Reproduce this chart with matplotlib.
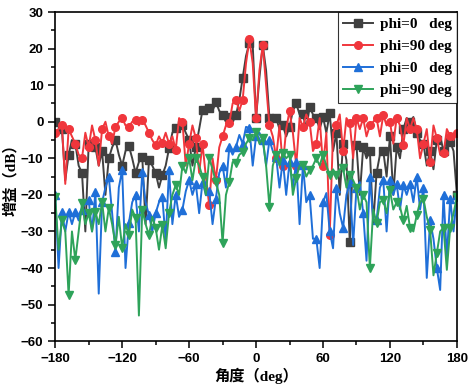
import numpy as np
import matplotlib.pyplot as plt
from matplotlib.ticker import MultipleLocator

# angle grid, 3 deg step
angle = np.arange(-180, 181, 3)

# co-pol phi=0
gain_co0 = [0, -1, -2, -16, -9, -5, -6, -12, -14, -30, -6, -5, -7, -12, -8, -20, -10, -7, -5, -9,
            -12, -8, -6.6, -10, -14, -11, -9.6, -28, -10.5, -12, -14, -18, -14.6, -12, -7.3, -3, -1.7, -1, -0.9, -3,
            -5, -12, -7, -2, 3.2, 4, 3.7, 3, 5.4, 3, 1.8, 0, 1.3, 0, 1.8, 6, 12, 18, 21.5, 21,
            1, 12, 21, 14, 1, 1.5, 1, -2, -1, -4, -1.4, 3, 5, 2, 2, -2, 4, 2, 1, -2,
            1.3, -3, 2.3, -8, -3, -20, -6, -10.5, -33, -8, -6.4, -20, -7, -10, -8, -28, -14, -9, -8, -15,
            -4, -20, -7, -10, -2, 1, 0, 1.3, -3, -5, -6, -12, -8, -13, -5, -4, -8, -5, -5.5, -8,
            -20]

# co-pol phi=90
gain_co90 = [-3, -2, -1, -17, -2, -4, -6, -9, -10, -3, -7, -1, -5, -12, -2, 0, -4, -6, -1.4, 0,
             1, -1, -1.4, 0, 0.5, -1, 0.5, -1, -3, -5, -6.4, -4, -5.8, -3, -6, -4, -7.7, 1, 0, -12,
             -6, -1, -4.5, -14, -6, -15, -22.8, -10, -16, -7, -4, -1, -0.4, 5, 6, 3, 6, 16, 22.5, 16,
             1, 14, 21, 10, -1, -4, -10, -1, -12, -2, 3, -3, -12, 1, -1.4, 2, 0, -8, -6, 1,
             -12, -3, -31, -3, -1, 2, -8, 1, -0.4, -10, 1, -2, 1, -4, -1, 0, 1, -4, 1.8, -1,
             0, -6, 1, -1, -6.4, 1, -2, 1, -2, -10, -6, -2, -11, -1, -4.5, -9, -8.6, -2, -4, -5,
             -3]

# cross-pol phi=0
gain_x0 = [-20, -40, -24.7, -30, -24.7, -28, -24.7, -27, -24, -22, -21.4, -30, -19.2, -47, -22, -18, -15, -25, -35.6, -18,
           -13.2, -40, -27.7, -22, -20, -30, -13.8, -22, -25.5, -30, -25, -22, -20.6, -32.4, -13.2, -28, -20, -26, -24, -19,
           -16, -20, -17, -25, -16.5, -20, -19, -28, -21, -14, -12, -18, -7, -9, -6.9, -3.6, -6, -1.4, -1.7, -12,
           -4, -3, -5, -12, -5, -8, -9.6, -18, -10.5, -20, -11, -18, -11, -28, -11.8, -22, -20, -32, -32, -40,
           -22, -19.5, -30, -34.6, -18, -25, -29, -20, -16.5, -33.7, -18, -16.5, -25, -38, -15, -27, -27, -18, -16, -30,
           -16, -20, -17, -24, -17.3, -20, -17, -22, -15, -24, -18, -42.7, -27, -32, -40, -46, -20, -37, -21, -30,
           -20]

# cross-pol phi=90
gain_x90 = [-20.5, -35, -27, -30, -47.4, -30, -37.8, -30, -22.3, -28, -25, -30, -24.7, -28, -21.9, -30, -23.6, -28, -33.7, -26,
            -34.6, -28, -31, -24, -26.3, -53, -24, -28, -31, -26, -29, -35, -28.3, -34.6, -25, -20, -17.3, -20, -12, -14,
            -10, -16, -10, -12, -15, -20, -10, -13, -16.5, -20, -33.2, -20, -16.5, -11, -11.3, -9, -8.3, -6, -4.5, -5,
            -2.8, -6, -4.5, -12, -23.3, -12, -9, -12, -8.5, -10, -9, -20, -15.4, -12, -11.8, -15, -13.2, -12, -10, -12,
            -9, -12, -14.6, -13, -14.6, -13, -12.7, -18, -14.6, -16, -18, -24, -20, -22, -40, -24, -27.7, -22, -21.4, -25,
            -18.7, -24, -22, -23.3, -27, -23, -29, -30, -25.5, -22, -21, -26, -29.6, -42, -36, -30, -29, -40.5, -29, -25,
            -20.6]

labels = ['phi=0   deg', 'phi=90 deg', 'phi=0   deg', 'phi=90 deg']
colors = ['#404040', '#f0363c', '#1f6fd8', '#2ea35a']
markers = ['s', 'o', '^', 'v']

fig = plt.figure(figsize=(4.72, 3.89), dpi=100)
ax = fig.add_axes([0.117, 0.123, 0.851, 0.846])

for y, lab, c, m in zip([gain_co0, gain_co90, gain_x0, gain_x90], labels, colors, markers):
    ax.plot(angle, y, color=c, marker=m, markersize=5.5, markevery=2, lw=1.4, label=lab)

ax.set_xlim(-180, 180)
ax.set_ylim(-60, 30)
ax.xaxis.set_major_locator(MultipleLocator(60))
ax.xaxis.set_minor_locator(MultipleLocator(30))
ax.yaxis.set_major_locator(MultipleLocator(10))
ax.yaxis.set_minor_locator(MultipleLocator(5))
ax.tick_params(which='both', direction='out', top=False, right=False, width=1.1)
ax.tick_params(which='major', length=5)
ax.tick_params(which='minor', length=3)
for sp in ax.spines.values():
    sp.set_linewidth(1.2)
for t in ax.get_xticklabels() + ax.get_yticklabels():
    t.set_fontfamily('Liberation Sans')
    t.set_fontweight('bold')
    t.set_fontsize(9.5)

lab_font = ['Liberation Serif', 'Noto Sans CJK SC']
ax.set_xlabel('角度（deg）', family=lab_font, fontsize=11, fontweight='bold', labelpad=2)
ax.set_ylabel('增益（dB）', family=lab_font, fontsize=11, fontweight='bold', labelpad=2)

leg = ax.legend(loc='upper right', borderaxespad=0, fancybox=False, handlelength=2.0,
                prop={'family': 'Liberation Serif', 'weight': 'bold', 'size': 11},
                labelspacing=0.55, borderpad=0.35, handletextpad=0.4)
leg.get_frame().set_edgecolor('black')
leg.get_frame().set_linewidth(0.8)

fig.savefig('out.png', dpi=100)
